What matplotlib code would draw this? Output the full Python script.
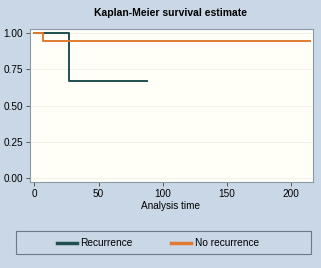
import matplotlib
matplotlib.use("Agg")
import matplotlib.pyplot as plt
from matplotlib.lines import Line2D
from matplotlib.patches import Rectangle

plt.rcParams['font.family'] = ['Liberation Sans', 'DejaVu Sans']

# Data (Kaplan-Meier step functions)
rec_t = [0, 26.5, 87.5]
rec_s = [1.0, 0.667, 0.667]
norec_t = [0, 7, 215]
norec_s = [1.0, 0.945, 0.945]
yticks = [0.0, 0.25, 0.5, 0.75, 1.0]
ytick_labels = ["0.00", "0.25", "0.50", "0.75", "1.00"]
xticks = [0, 50, 100, 150, 200]
series_labels = ["Recurrence", "No recurrence"]

bg = "#c9d7e6"
plotbg = "#fffff7"
c_rec = "#1f4f4f"
c_norec = "#e07a32"

fig = plt.figure(figsize=(3.21, 2.68), dpi=100, facecolor=bg)
W, H = 321, 268
ax = fig.add_axes([30 / W, 1 - 182 / H, (313 - 30) / W, (182 - 29) / H])
ax.set_facecolor(plotbg)

ax.step(rec_t, rec_s, where="post", color=c_rec, lw=1.4)
ax.step(norec_t, norec_s, where="post", color=c_norec, lw=1.4)

ax.set_xlim(-3.5, 217)
ax.set_ylim(-0.03, 1.03)
ax.set_yticks(yticks)
ax.set_yticklabels(ytick_labels)
ax.set_xticks(xticks)
ax.tick_params(labelsize=7.2, length=3, width=0.6, color="#444444", pad=2)
for s in ax.spines.values():
    s.set_color("#8a9aa8")
    s.set_linewidth(0.8)
ax.grid(axis="y", color="#f2f0e6", lw=0.6)
ax.set_axisbelow(True)

fig.text(171 / W, 1 - 13 / H, "Kaplan-Meier survival estimate", ha="center", va="center",
         fontsize=7.5, fontweight="bold")
fig.text(171 / W, 1 - 206 / H, "Analysis time", ha="center", va="center", fontsize=7.2)

# legend box
rect = Rectangle((16 / W, 1 - 254 / H), (311 - 16) / W, 23 / H, transform=fig.transFigure,
                 facecolor=bg, edgecolor="#6b7a88", lw=0.8)
fig.add_artist(rect)
ly = 1 - 243 / H
fig.add_artist(Line2D([57 / W, 77 / W], [ly, ly], transform=fig.transFigure, color=c_rec, lw=2.5))
fig.text(80 / W, ly, series_labels[0], ha="left", va="center", fontsize=7.3)
fig.add_artist(Line2D([171 / W, 191 / W], [ly, ly], transform=fig.transFigure, color=c_norec, lw=2.5))
fig.text(195 / W, ly, series_labels[1], ha="left", va="center", fontsize=7.3)

fig.savefig("out.png", dpi=100, facecolor=bg)
